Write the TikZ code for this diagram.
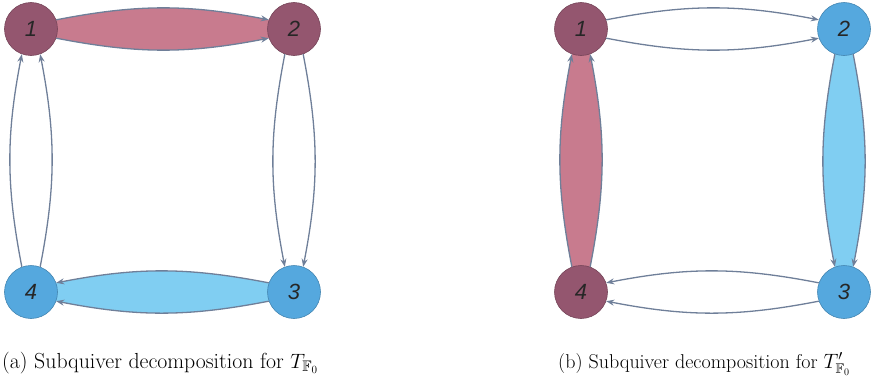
\documentclass[tikz,border=0pt]{standalone}
\usepackage{amssymb}
\usepackage{fontspec}
\newfontfamily\quiverFont{Liberation Sans}
\usetikzlibrary{arrows.meta,backgrounds}

\begin{document}
\begin{tikzpicture}[x=1pt, y=-1pt,
    vertex/.style={circle, minimum size=53pt, inner sep=0pt, line width=0.6pt,
        font=\quiverFont\itshape\fontsize{22}{22}\selectfont, text=black!85},
    redVertex/.style={vertex, fill=vertexRed, draw=vertexRed!80!black},
    blueVertex/.style={vertex, fill=vertexBlue, draw=vertexBlue!80!black},
    quiverArrow/.style={draw=arrowColour, line width=1.3pt, -{Stealth[length=8pt,width=6pt]}},
    redLens/.style={fill=lensRed},
    blueLens/.style={fill=lensBlue},
    caption/.style={anchor=base west, inner sep=0pt}]
    \def\bendAngle{11}

    \definecolor{vertexRed}{HTML}{94566F}
    \definecolor{vertexBlue}{HTML}{55A8DE}
    \definecolor{lensRed}{HTML}{C87B8E}
    \definecolor{lensBlue}{HTML}{80CEF2}
    \definecolor{arrowColour}{HTML}{6F7F99}

    \useasboundingbox (0,0) rectangle (872,388);

    % Quiver (a)
    \node[redVertex]  (a1) at (31,29)   {1};
    \node[redVertex]  (a2) at (294,29)  {2};
    \node[blueVertex] (a3) at (294,292) {3};
    \node[blueVertex] (a4) at (31,292)  {4};

    % Quiver (b)
    \node[redVertex]  (b1) at (581,29)  {1};
    \node[blueVertex] (b2) at (844,29)  {2};
    \node[blueVertex] (b3) at (844,292) {3};
    \node[redVertex]  (b4) at (581,292) {4};

    % Fill the subquivers
    \begin{pgfonlayer}{background}
        \fill[redLens] (a1.20) to[bend left=\bendAngle] (a2.160) -- (a2.-160) to[bend left=\bendAngle] (a1.-20) -- cycle;
        \fill[blueLens] (a3.160) to[bend right=\bendAngle] (a4.20) -- (a4.-20) to[bend right=\bendAngle] (a3.-160) -- cycle;
        \fill[blueLens] (b2.-110) to[bend right=\bendAngle] (b3.110) -- (b3.70) to[bend right=\bendAngle] (b2.-70) -- cycle;
        \fill[redLens] (b4.110) to[bend left=\bendAngle] (b1.-110) -- (b1.-70) to[bend left=\bendAngle] (b4.70) -- cycle;
    \end{pgfonlayer}

    % Arrows of quiver (a)
    \draw[quiverArrow] (a1.20) to[bend left=\bendAngle] (a2.160);
    \draw[quiverArrow] (a1.-20) to[bend right=\bendAngle] (a2.-160);
    \draw[quiverArrow] (a2.-110) to[bend right=\bendAngle] (a3.110);
    \draw[quiverArrow] (a2.-70) to[bend left=\bendAngle] (a3.70);
    \draw[quiverArrow] (a3.160) to[bend right=\bendAngle] (a4.20);
    \draw[quiverArrow] (a3.-160) to[bend left=\bendAngle] (a4.-20);
    \draw[quiverArrow] (a4.110) to[bend left=\bendAngle] (a1.-110);
    \draw[quiverArrow] (a4.70) to[bend right=\bendAngle] (a1.-70);

    % Arrows of quiver (b)
    \draw[quiverArrow] (b1.20) to[bend left=\bendAngle] (b2.160);
    \draw[quiverArrow] (b1.-20) to[bend right=\bendAngle] (b2.-160);
    \draw[quiverArrow] (b2.-110) to[bend right=\bendAngle] (b3.110);
    \draw[quiverArrow] (b2.-70) to[bend left=\bendAngle] (b3.70);
    \draw[quiverArrow] (b3.160) to[bend right=\bendAngle] (b4.20);
    \draw[quiverArrow] (b3.-160) to[bend left=\bendAngle] (b4.-20);
    \draw[quiverArrow] (b4.110) to[bend left=\bendAngle] (b1.-110);
    \draw[quiverArrow] (b4.70) to[bend right=\bendAngle] (b1.-70);

    % Captions
    \node[caption, font=\fontsize{21.8}{24}\selectfont] (capA) at (2,368) {(a) Subquiver decomposition for $T_{\mathbb{F}_0}$};
    \node[caption, font=\fontsize{20}{24}\selectfont] (capB) at (558,368) {(b) Subquiver decomposition for $T'_{\mathbb{F}_0}$};

\end{tikzpicture}
\end{document}
